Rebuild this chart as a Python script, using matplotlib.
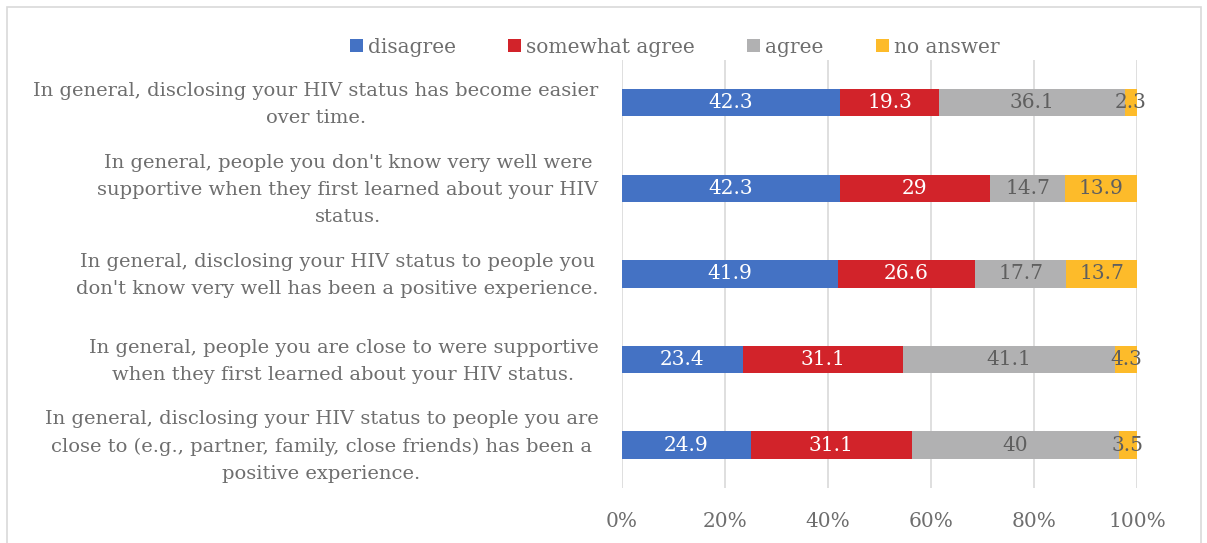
import numpy as np
import matplotlib.pyplot as plt
from matplotlib.patches import Rectangle
from matplotlib.transforms import ScaledTranslation

plt.rcParams['font.family'] = ['DejaVu Serif']

statements = [
    "In general, disclosing your HIV status has become easier\nover time.",
    "In general, people you don't know very well were\nsupportive when they first learned about your HIV\nstatus.",
    "In general, disclosing your HIV status to people you\ndon't know very well has been a positive experience.",
    "In general, people you are close to were supportive\nwhen they first learned about your HIV status.",
    "In general, disclosing your HIV status to people you are\nclose to (e.g., partner, family, close friends) has been a\npositive experience.",
]
series = ['disagree', 'somewhat agree', 'agree', 'no answer']
disagree = [42.3, 42.3, 41.9, 23.4, 24.9]
somewhat = [19.3, 29, 26.6, 31.1, 31.1]
agree = [36.1, 14.7, 17.7, 41.1, 40]
no_answer = [2.3, 13.9, 13.7, 4.3, 3.5]

colors = ['#4472C4', '#D2232A', '#B1B1B2', '#FDBB2A']
label_colors = ['white', 'white', '#5f5f5f', '#5f5f5f']
text_gray = '#6e6e6e'
fs = 14

data = np.array([disagree, somewhat, agree, no_answer])
shares = data / data.sum(axis=0) * 100

fig = plt.figure(figsize=(12.07, 5.43), dpi=100)
ax = fig.add_axes([0.5153, 0.1013, 0.4267, 0.7882])

y = np.arange(len(statements))
left = np.zeros(len(statements))
bars = []
for vals, pct, name, c, lc in zip(data, shares, series, colors, label_colors):
    b = ax.barh(y, pct, left=left, height=0.32, color=c, label=name, zorder=2)
    bars.append(b)
    for yi, l, p, v in zip(y, left, pct, vals):
        ax.text(l + p / 2, yi, f'{v:g}', ha='center', va='center',
                fontsize=fs + 0.5, color=lc, zorder=3)
    left += pct

ax.set_ylim(len(statements) - 0.5, -0.5)
ax.set_xlim(0, 100)
ax.set_xticks(np.arange(0, 101, 20))
ax.set_xticklabels([f'{t}%' for t in range(0, 101, 20)])
ax.set_yticks(y)
ax.set_yticklabels(statements, multialignment='center', linespacing=1.65)
ax.tick_params(axis='x', length=0, pad=17, labelsize=fs + 0.5, labelcolor=text_gray)
ax.tick_params(axis='y', length=0, pad=17, labelsize=fs, labelcolor=text_gray)
# nudge the statement labels up a little
shift = ScaledTranslation(0, 0.05, fig.dpi_scale_trans)
for lbl in ax.get_yticklabels():
    lbl.set_transform(lbl.get_transform() + shift)
ax.grid(axis='x', color='#d9d9d9', linewidth=1.2, zorder=0)
ax.set_axisbelow(True)
for s in ax.spines.values():
    s.set_visible(False)

fig.legend(handles=bars, labels=series, loc='center', bbox_to_anchor=(0.559, 0.913),
           ncol=4, frameon=False, fontsize=fs + 0.5, labelcolor=text_gray,
           handlelength=0.65, handleheight=0.65, handletextpad=0.25, columnspacing=2.6)

# light frame around the chart area
fig.patches.append(Rectangle((0.006, -0.01), 0.989, 0.998, transform=fig.transFigure,
                             fill=False, edgecolor='#d9d9d9', linewidth=1.2))

fig.savefig('out.png', dpi=100)
